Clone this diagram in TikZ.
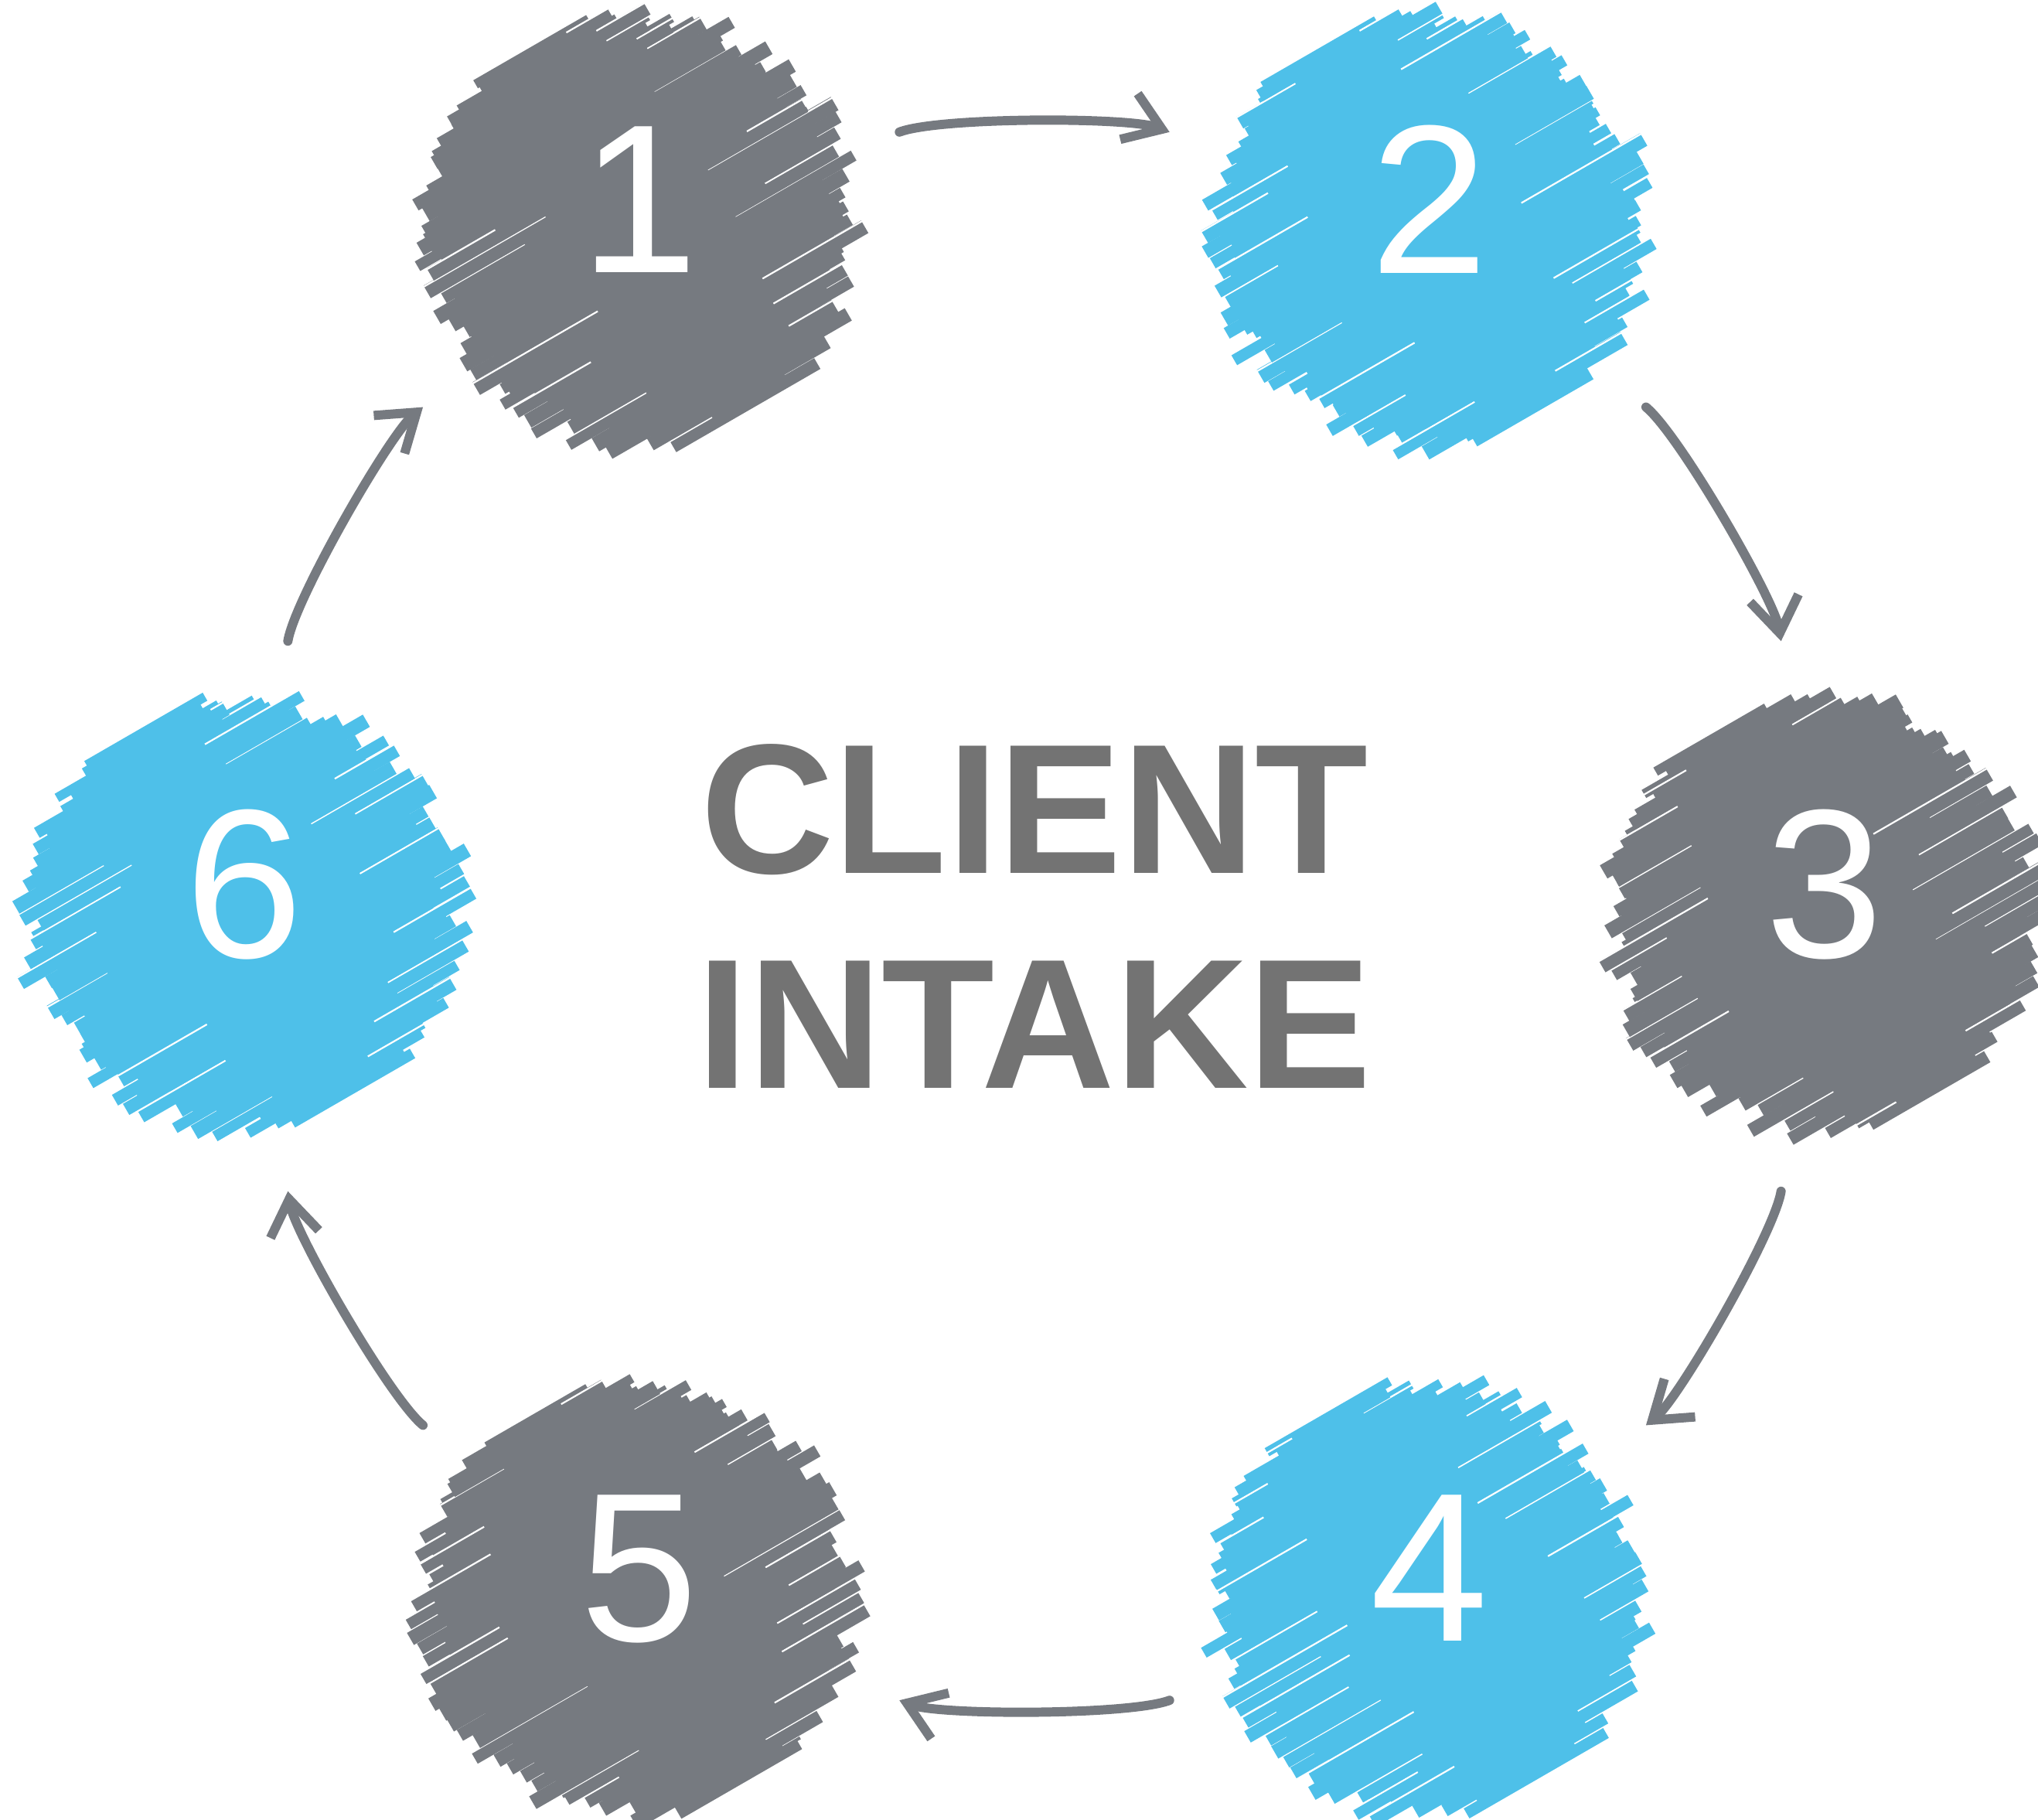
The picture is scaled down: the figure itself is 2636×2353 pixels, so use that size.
\documentclass[tikz,border=0pt]{standalone}
\usepackage{fontspec}
\setmainfont{Liberation Sans}
\usetikzlibrary{arrows.meta,backgrounds}
\definecolor{stepgray}{HTML}{767A80}
\definecolor{stepblue}{HTML}{4EC0E9}
\definecolor{hubgray}{HTML}{737373}
\tikzset{
    stepdot/.style = {circle, minimum size=5.7cm, inner sep=0pt, outer sep=0.75cm, text=white, text depth=0.84cm, font=\fontsize{78}{78}\selectfont},
    hubtext/.style = {text=hubgray, align=center, font=\fontsize{68}{79}\selectfont\bfseries},
    flow/.style = {draw=stepgray, line width=3.4pt, line cap=round, -{Straight Barb[length=13pt,width=18pt]}},
}
% hand-scribbled disc behind a step node
\newcommand\scribble[2]{%
  \begin{scope}[shift={(#1.center)}, rotate=30]
    \fill[#2] (0,0) circle (200);
    \foreach \k in {-15,...,15}{
      \pgfmathsetmacro\yy{\k*17.5}
      \pgfmathsetmacro\hw{100*sqrt(max(2.78*2.78-(\k*0.175)*(\k*0.175),0))}
      \pgfmathsetmacro\xa{-\hw-rnd*45+20}
      \pgfmathsetmacro\xb{\hw+rnd*45-20}
      \pgfmathsetmacro\lw{0.14+rnd*0.06}
      \draw[#2, line width=\lw cm] (\xa,\yy) -- (\xb,\yy);
      \pgfmathsetmacro\xc{-0.92*\hw-rnd*30+15}
      \pgfmathsetmacro\xd{0.92*\hw+rnd*30-15}
      \draw[#2, line width=0.12cm] (\xc,\yy+8.75) -- (\xd,\yy+8.75);
      \pgfmathsetmacro\side{rnd<0.5 ? 1 : -1}
      \pgfmathsetmacro\xe{\side*(0.35+0.4*rnd)*\hw}
      \pgfmathsetmacro\xf{rnd<0.6 ? \side*1.3*\hw : \xe}
      \draw[white, line width=0.022cm] (\xe,\yy+8) -- (\xf,\yy+8);
    }
  \end{scope}}

\begin{document}
\begin{tikzpicture}[x=0.01cm, y=0.01cm]
\useasboundingbox (0,0) rectangle (2636,2353);
\pgfmathsetseed{11}

\begin{scope}[shift={(1338,1168)}]
  \node[hubtext] (hub) at (0,0) {CLIENT\\INTAKE};
  \foreach \n/\a in {1/120, 2/60, 3/0, 4/-60, 5/-120, 6/180}
    \node[stepdot] (s\n) at (\a:1022) {\n};
\end{scope}

\begin{pgfonlayer}{background}
  \foreach \n/\c in {1/stepgray, 2/stepblue, 3/stepgray, 4/stepblue, 5/stepgray, 6/stepblue}{
    \scribble{s\n}{\c}
  }
\end{pgfonlayer}

% arrows round the cycle
\foreach \a/\b in {1/2, 2/3, 3/4, 4/5, 5/6, 6/1}
  \draw[flow] (s\a) to[bend left=21, looseness=0.4] (s\b);
\end{tikzpicture}
\end{document}
